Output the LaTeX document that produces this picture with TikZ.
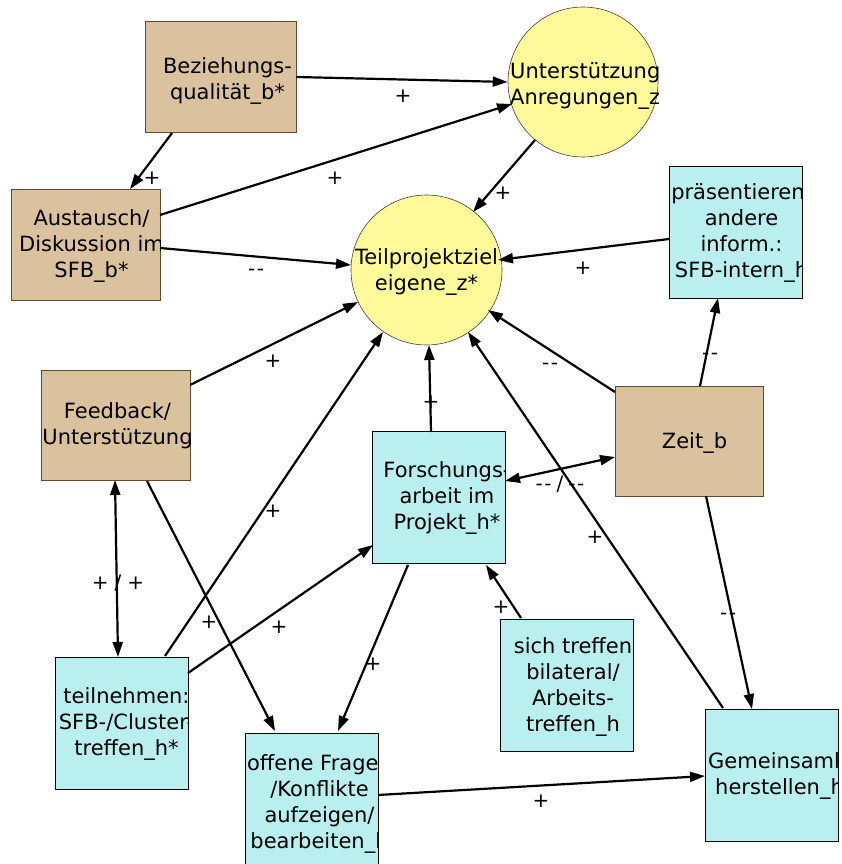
\documentclass[tikz,border=0pt]{standalone}
\usepackage{fontspec}
\setmainfont{DejaVu Sans}
\usetikzlibrary{arrows.meta,shapes.geometric}
\definecolor{tanfill}{RGB}{219,194,158}
\definecolor{tanline}{RGB}{95,75,50}
\definecolor{cyfill}{RGB}{186,239,239}
\definecolor{yefill}{RGB}{255,250,153}
\tikzset{
  tanbox/.style={rectangle, draw=tanline, fill=tanfill, line width=1pt, inner sep=0pt},
  cybox/.style={rectangle, draw=black, fill=cyfill, line width=0.9pt, inner sep=0pt, minimum width=133pt, minimum height=132pt},
  goal/.style={ellipse, draw=black!75, fill=yefill, line width=0.6pt, inner sep=0pt},
  txt/.style={align=center, font=\fontsize{21}{26}\selectfont, inner sep=0pt},
  conn/.style={line width=2.2pt, -{Triangle[length=15pt,width=10pt]}},
  bi/.style={line width=2.2pt, {Triangle[length=15pt,width=10pt]}-{Triangle[length=15pt,width=10pt]}},
  lab/.style={font=\fontsize{20}{24}\selectfont, inner sep=0pt},
}
\newcommand{\cliptext}[4]{%
  \begin{scope}
    \clip (#1.west |- #1.south) rectangle (#1.east |- #1.north);
    \node[txt] (#2) at ([shift={#3}]#1.center) {#4};
  \end{scope}}
\newcommand{\dd}{-\kern1.5pt-}
\begin{document}
\begin{tikzpicture}[x=1pt,y=-1pt]
\fill[white] (0,0) rectangle (841,864);
\useasboundingbox (0,0) rectangle (841,864);

% nodes
\node[tanbox, minimum width=151pt, minimum height=110pt] (bez) at (220.5,77) {};
\node[goal, minimum width=150pt, minimum height=150pt] (unt) at (583,82) {};
\node[tanbox, minimum width=149pt, minimum height=111pt] (aus) at (85.5,244.5) {};
\node[goal, minimum width=151pt, minimum height=150pt] (tei) at (426.5,270) {};
\node[cybox] (pra) at (735.5,232) {};
\node[tanbox, minimum width=149pt, minimum height=110pt] (fee) at (115.5,425) {};
\node[cybox] (for) at (439,497.5) {};
\node[tanbox, minimum width=148pt, minimum height=110pt] (zei) at (689,441) {};
\node[cybox] (tln) at (121.5,723) {};
\node[cybox] (off) at (311.5,799) {};
\node[cybox] (sic) at (567,685) {};
\node[cybox] (gem) at (771.5,775) {};

% texts
\cliptext{bez}{bezT}{(7,4)}{Beziehungs-\\qualität\_b*}
\begin{scope}
  \clip (unt.west |- unt.south) rectangle (unt.east |- unt.north);
  \node[txt, align=left, anchor=west] (untT) at (510,86) {Unterstützung/\\Anregungen\_z};
\end{scope}
\cliptext{aus}{ausT}{(6,1.5)}{Austausch/\\Diskussion im\\SFB\_b*}
\cliptext{tei}{teiT}{(0,2)}{Teilprojektziel\\eigene\_z*}
\cliptext{pra}{praT}{(6,1)}{präsentieren/\\andere\\inform.:\\SFB-intern\_h}
\cliptext{fee}{feeT}{(2,1)}{Feedback/\\Unterstützung}
\cliptext{for}{forT}{(8,0)}{Forschungs-\\arbeit im\\Projekt\_h*}
\cliptext{zei}{zeiT}{(5.5,2)}{Zeit\_b}
\cliptext{tln}{tlnT}{(5,1)}{teilnehmen:\\SFB-/Cluster-\\treffen\_h*}
\cliptext{off}{offT}{(8,5)}{offene Fragen\\/Konflikte\\aufzeigen/\\bearbeiten\_h}
\cliptext{sic}{sicT}{(6,2)}{sich treffen\\bilateral/\\Arbeits-\\treffen\_h}
\begin{scope}
  \clip (gem.west |- gem.south) rectangle (gem.east |- gem.north);
  \node[txt, align=left, anchor=west] (gemT) at (708,776) {Gemeinsamkeit\\\hspace*{7pt}herstellen\_h};
\end{scope}

% connectors
\draw[conn] (bez.east) -- (unt.west);
\draw[conn] ([shift={(74.5,-29.5)}]aus.center) -- ([shift={(-71,22)}]unt.center);
\draw[conn] ([shift={(-48.5,56)}]bez.center) -- ([shift={(44.5,-55.5)}]aus.center);
\draw[conn] ([shift={(74.5,3.5)}]aus.center) -- ([shift={(-75.5,-5)}]tei.center);
\draw[conn] ([shift={(-48,58)}]unt.center) -- ([shift={(46.5,-58)}]tei.center);
\draw[conn] ([shift={(-66.5,7)}]pra.center) -- ([shift={(71.5,-10)}]tei.center);
\draw[conn] ([shift={(74.5,-40)}]fee.center) -- ([shift={(-68.5,32)}]tei.center);
\draw[conn] ([shift={(-8,-65.5)}]for.center) -- ([shift={(2.5,75)}]tei.center);
\draw[conn] ([shift={(-74,-49)}]zei.center) -- ([shift={(61.5,40)}]tei.center);
\draw[conn] ([shift={(11,-55)}]zei.center) -- ([shift={(-17.5,66)}]pra.center);
\draw[bi] ([shift={(-74,16)}]zei.center) -- ([shift={(66,-16.5)}]for.center);
\draw[conn] ([shift={(-48.5,-67)}]gem.center) -- ([shift={(41.5,62)}]tei.center);
\draw[conn] ([shift={(17,55)}]zei.center) -- ([shift={(-19.5,-66)}]gem.center);
\draw[bi] ([shift={(-0.5,55)}]fee.center) -- ([shift={(-3.5,-66)}]tln.center);
\draw[conn] ([shift={(43.5,-67)}]tln.center) -- ([shift={(-43.5,62)}]tei.center);
\draw[conn] ([shift={(66.5,-50)}]tln.center) -- ([shift={(-66,47.5)}]for.center);
\draw[conn] ([shift={(31.5,56)}]fee.center) -- ([shift={(-36.5,-68)}]off.center);
\draw[conn] ([shift={(-31,67.5)}]for.center) -- ([shift={(26.5,-68)}]off.center);
\draw[conn] ([shift={(-46,-67)}]sic.center) -- ([shift={(47,67.5)}]for.center);
\draw[conn] ([shift={(66.5,-4)}]off.center) -- ([shift={(-66.5,1)}]gem.center);

% labels
\node[lab] (l1) at (403,96) {+};
\node[lab] (l2) at (335,178) {+};
\node[lab] (l3) at (152,178) {+};
\node[lab] (l4) at (256,272) {\dd};
\node[lab] (l5) at (503,193) {+};
\node[lab] (l6) at (583,268) {+};
\node[lab] (l7) at (273,361) {+};
\node[lab] (l8) at (431,402) {+};
\node[lab] (l9) at (550,366) {\dd};
\node[lab] (l10) at (710,356) {\dd};
\node[lab] (l11) at (560,484) {\dd\hspace{5pt}/\hspace{5pt}\dd};
\node[lab] (l12) at (595,537) {+};
\node[lab] (l13) at (728,616) {\dd};
\node[lab] (l14) at (118,583) {+\hspace{6pt}/\hspace{6pt}+};
\node[lab] (l15) at (273,511) {+};
\node[lab] (l16) at (279,627) {+};
\node[lab] (l17) at (209,622) {+};
\node[lab] (l18) at (373,664) {+};
\node[lab] (l19) at (501,607) {+};
\node[lab] (l20) at (541,801) {+};
\end{tikzpicture}
\end{document}
